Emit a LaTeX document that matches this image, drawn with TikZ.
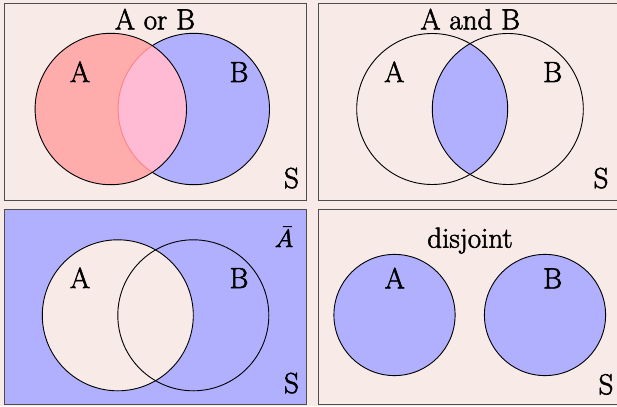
\documentclass[tikz,border=0pt]{standalone}
\usepackage{fontspec}
\newcommand\heavytext[1]{\special{pdf:literal direct 2 Tr 0.55 w}#1\special{pdf:literal direct 0 Tr}}
\definecolor{bgpink}{RGB}{247,234,231}
\definecolor{vblue}{RGB}{176,176,255}
\definecolor{vred}{RGB}{255,172,172}
\definecolor{vlap}{RGB}{255,187,212}
\definecolor{varc}{RGB}{255,130,130}
\definecolor{frame}{RGB}{77,77,77}
\begin{document}
\begin{tikzpicture}[x=1pt,y=-1pt,
  panel/.style={draw=frame,line width=1.3pt},
  ring/.style={draw=black,line width=0.9pt},
  lbl/.style={inner sep=0pt,anchor=base,font=\fontsize{29}{34}\selectfont}]
\useasboundingbox (0,0) rectangle (617,406);
\fill[bgpink] (0,0) rectangle (617,406);
% Panel 1: A or B
\draw[panel,fill=bgpink] (4.5,3.7) rectangle (306.7,200.5);
\fill[vblue] (193.8,109) circle (75.7);
\draw[ring] (193.8,109) circle (75.7);
\fill[vred] (110.8,109) circle (75.7);
\begin{scope}
  \clip (110.8,109) circle (75.7);
  \fill[vlap] (193.8,109) circle (75.7);
  \draw[draw=varc,line width=0.9pt] (193.8,109) circle (75.7);
\end{scope}
\draw[ring] (110.8,109) circle (75.7);
\node[lbl] (t1) at (155,29.3) {\heavytext{A or B}};
\node[lbl] (a1) at (80,82) {\heavytext{A}};
\node[lbl] (b1) at (239,82) {\heavytext{B}};
\node[lbl] (s1) at (291.5,188) {\heavytext{S}};
% Panel 2: A and B
\draw[panel,fill=bgpink] (318.3,3.7) rectangle (625,200.5);
\begin{scope}
  \clip (432.2,109) circle (75.5);
  \fill[vblue] (507.8,109) circle (75.5);
\end{scope}
\draw[ring] (432.2,109) circle (75.5);
\draw[ring] (507.8,109) circle (75.5);
\node[lbl] (t2) at (470.3,29.3) {\heavytext{A and B}};
\node[lbl] (a2) at (394.3,82) {\heavytext{A}};
\node[lbl] (b2) at (552.7,82) {\heavytext{B}};
\node[lbl] (s2) at (601,188) {\heavytext{S}};
% Panel 3: complement of A
\draw[panel,fill=vblue] (4.5,209.3) rectangle (306.7,404.5);
\fill[bgpink] (117.8,315.3) circle (75.5);
\draw[ring] (117.8,315.3) circle (75.5);
\draw[ring] (193.3,315.3) circle (75.5);
\node[lbl,font=\fontsize{31}{36}\selectfont] (t3) at (284,247) {\heavytext{$\bar{A}$}};
\node[lbl] (a3) at (80,288) {\heavytext{A}};
\node[lbl] (b3) at (239,288) {\heavytext{B}};
\node[lbl] (s3) at (291.5,393) {\heavytext{S}};
% Panel 4: disjoint
\draw[panel,fill=bgpink] (318.3,209.3) rectangle (625,404.5);
\draw[ring,fill=vblue] (394.5,315) circle (60.6);
\draw[ring,fill=vblue] (545,315) circle (60.6);
\node[lbl] (t4) at (470,247.7) {\heavytext{disjoint}};
\node[lbl] (a4) at (394.8,288.3) {\heavytext{A}};
\node[lbl] (b4) at (552.7,288.3) {\heavytext{B}};
\node[lbl] (s4) at (606,394.3) {\heavytext{S}};
\end{tikzpicture}
\end{document}
